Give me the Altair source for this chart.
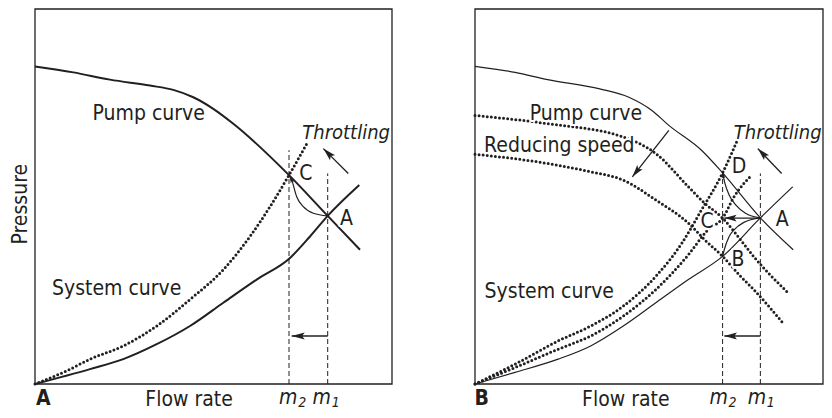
import math
import altair as alt
import pandas as pd

INK = "#231f20"
FONT = "Liberation Sans Narrow, Arial Narrow, DejaVu Sans Condensed, sans-serif"
HEAD = "M0,0L0.55,2L0,1.6L-0.55,2Z"

H = 402
Y_DOMAIN = [-6.93, 100.27]

# ---------------- Panel A : throttling ----------------
A_W = 408
A_X_DOMAIN = [-7.563, 106.723]

a_pump_flow = [0, 10.73, 21.01, 32.21, 38.74, 44.34, 49.94, 55.55, 71.15, 81.99, 91.04]
a_pump_p = [84.70, 83.10, 81.17, 79.58, 78.44, 76.47, 73.39, 69.41, 55.70, 44.83, 35.81]
a_sys_flow = [0, 15.41, 24.73, 34.09, 43.42, 52.75, 62.10, 71.43, 77.03, 81.99, 90.84]
a_sys_p = [0, 3.98, 6.63, 10.61, 15.47, 21.67, 27.85, 33.61, 39.34, 44.83, 53.05]
a_throttled_flow = [0, 8.88, 15.41, 24.73, 34.09, 43.42, 52.75, 60.22, 65.83, 71.15, 76.55]
a_throttled_p = [0, 3.53, 6.63, 10.16, 15.47, 22.55, 30.50, 39.34, 47.29, 55.70, 64.80]
a_move_flow = [71.15, 71.90, 73.30, 75.15, 77.96, 81.99]
a_move_p = [55.70, 54.38, 49.95, 47.29, 45.54, 44.83]
a_m_flow = [71.15, 81.99]
a_m_top = [62.33, 56.15]

a_arrow_from_flow = [81.99, 87.76, 72.2]
a_arrow_from_p = [12.81, 56.15, 53.6]
a_arrow_to_flow = [71.90, 80.76, 71.35]
a_arrow_to_p = [12.81, 62.78, 55.4]
a_arrow_shaft = [True, True, False]
a_arrow_head = [170, 170, 45]

a_lab_text = ["Pump curve", "System curve", "C", "A", "Flow rate"]
a_lab_flow = [31.84, 22.88, 75.85, 87.21, 43.14]
a_lab_p = [70.29, 23.87, 54.38, 42.44, -5.73]
a_left_text = []
a_left_flow = []
a_left_p = []
a_ital_text = ["Throttling"]
a_ital_flow = [99.44]
a_ital_p = [65.44]
a_bold_text = ["A"]
a_bold_flow = [2.33]
a_bold_p = [-5.6]
a_m_text = ["m", "m"]
a_m_lab_flow = [70.95, 80.31]
a_m_lab_p = [-5.33, -5.33]
a_sub_text = ["2", "1"]
a_sub_flow = [74.85, 84.21]
a_sub_p = [-6.13, -6.13]
a_rot_text = ["Pressure"]
a_rot_flow = [-7.14]
a_rot_p = [47.95]

# ---------------- Panel B : reducing speed ----------------
B_W = 408
B_X_DOMAIN = [-16.954, 100.287]

b_pump_flow = [0, 11.52, 20.87, 35.87, 44.21, 50.84, 55.70, 65.08, 71.15, 82.0, 91.43]
b_pump_p = [84.70, 83.10, 81.17, 78.70, 76.47, 72.94, 68.97, 62.33, 56.3, 44.30, 35.81]
b_sys_flow = [0, 11.52, 23.88, 33.24, 42.61, 51.97, 61.32, 71.15, 82.0, 91.29]
b_sys_p = [0, 3.10, 6.63, 10.16, 15.47, 21.67, 27.85, 34.03, 44.30, 52.60]
b_slow1_flow = [0, 20.87, 42.61, 51.97, 61.32, 66.01, 71.15, 76.32, 80.06, 90.17]
b_slow1_p = [71.62, 69.42, 65.87, 61.46, 52.60, 48.20, 44.22, 38.46, 34.03, 24.14]
b_slow2_flow = [0, 20.87, 33.24, 42.61, 51.97, 61.32, 66.01, 71.15, 76.32, 80.06, 88.4]
b_slow2_p = [61.27, 58.81, 56.58, 54.38, 49.07, 42.89, 38.46, 34.03, 28.73, 25.20, 16.37]
b_sysd_flow = [0, 11.52, 23.88, 33.24, 42.61, 51.97, 59.46, 65.08, 71.15, 75.37]
b_sysd_p = [0, 5.3, 11.49, 15.47, 20.78, 28.74, 37.59, 46.42, 56.3, 64.99]
b_sysc_flow = [0, 11.52, 23.88, 33.24, 42.61, 51.97, 61.32, 66.94, 71.15, 74.44, 79.5]
b_sysc_p = [0, 4.4, 9.28, 12.81, 18.12, 25.20, 34.48, 41.11, 44.22, 49.95, 55.7]
b_to_d_flow = [71.15, 71.82, 73.03, 74.92, 77.72, 82.0]
b_to_d_p = [56.3, 53.50, 50.40, 47.75, 45.54, 44.30]
b_to_b_flow = [71.15, 71.63, 73.03, 74.44, 77.25, 82.0]
b_to_b_p = [34.03, 35.81, 39.34, 41.11, 43.1, 44.30]
b_m_flow = [71.15, 82.0]
b_m_top = [57.5, 56.15]

b_arrow_from_flow = [82.0, 82.0, 55.70, 88.12, 71.5]
b_arrow_from_p = [12.81, 44.25, 67.64, 56.15, 54.0]
b_arrow_to_flow = [71.63, 71.63, 45.22, 81.26, 71.2]
b_arrow_to_p = [12.81, 44.25, 55.25, 62.78, 56.6]
b_arrow_shaft = [True, True, True, True, False]
b_arrow_head = [160, 150, 150, 160, 45]

b_lab_text = ["Pump curve", "System curve", "D", "C", "B", "A", "Flow rate"]
b_lab_flow = [31.88, 21.35, 75.9, 66.71, 75.6, 88.3, 43.35]
b_lab_p = [70.48, 23.0, 56.15, 41.56, 31.38, 42.18, -5.73]
b_left_text = ["Reducing speed"]
b_left_flow = [2.62]
b_left_p = [61.80]
b_ital_text = ["Throttling"]
b_ital_flow = [99.6]
b_ital_p = [65.44]
b_bold_text = ["B"]
b_bold_flow = [1.92]
b_bold_p = [-5.6]
b_m_text = ["m", "m"]
b_m_lab_flow = [70.04, 81.04]
b_m_lab_p = [-5.33, -5.33]
b_sub_text = ["2", "1"]
b_sub_flow = [74.0, 85.0]
b_sub_p = [-6.13, -6.13]


def line_rows(series):
    rows = []
    for kind, sid, flows, ps in series:
        for i, (f, p) in enumerate(zip(flows, ps)):
            rows.append({"kind": kind, "sid": sid, "i": i, "flow": f, "p": p})
    return pd.DataFrame(rows)


def build_panel(width, xdom, lines, arrows, texts, solid_w):
    xs = alt.Scale(domain=xdom, nice=False, zero=False)
    ys = alt.Scale(domain=Y_DOMAIN, nice=False, zero=False)
    kx = width / (xdom[1] - xdom[0])
    ky = H / (Y_DOMAIN[1] - Y_DOMAIN[0])

    def X(f):
        return alt.X(f"{f}:Q", scale=xs, axis=None)

    def Y(f):
        return alt.Y(f"{f}:Q", scale=ys, axis=None)

    layers = []
    frame = pd.DataFrame({"x0": [0], "x1": [100], "y0": [0], "y1": [100]})
    layers.append(
        alt.Chart(frame).mark_rect(filled=False, stroke=INK, strokeWidth=1.3)
        .encode(x=X("x0"), x2="x1:Q", y=Y("y0"), y2="y1:Q")
    )

    fr_f, fr_p, to_f, to_p, shaft, head = arrows
    shaft_rows, head_rows = [], []
    for k in range(len(fr_f)):
        if shaft[k]:
            shaft_rows.append({"kind": "shaft", "sid": f"ar{k}", "i": 0, "flow": fr_f[k], "p": fr_p[k]})
            shaft_rows.append({"kind": "shaft", "sid": f"ar{k}", "i": 1, "flow": to_f[k], "p": to_p[k]})
        dx = (to_f[k] - fr_f[k]) * kx
        dy = -(to_p[k] - fr_p[k]) * ky
        ang = math.degrees(math.atan2(dx, -dy)) % 360
        head_rows.append({"flow": to_f[k], "p": to_p[k], "angle": ang, "size": head[k]})
    ldf = pd.concat([lines, pd.DataFrame(shaft_rows)], ignore_index=True)
    base = alt.Chart(ldf)

    def lay(kind, **kw):
        return base.transform_filter(alt.datum.kind == kind).mark_line(color=INK, **kw).encode(
            x=X("flow"), y=Y("p"), detail="sid:N", order="i:Q")

    layers.append(lay("dotted", strokeWidth=3.0, strokeDash=[0, 4.1], strokeCap="round", interpolate="monotone"))
    layers.append(lay("dashed", strokeWidth=1.0, strokeDash=[5, 3]))
    layers.append(lay("solid", strokeWidth=solid_w, interpolate="monotone"))
    layers.append(lay("thin", strokeWidth=1.2, interpolate="monotone"))
    layers.append(lay("shaft", strokeWidth=1.3))
    layers.append(
        alt.Chart(pd.DataFrame(head_rows)).mark_point(shape=HEAD, filled=True, color=INK, opacity=1, strokeWidth=0)
        .encode(x=X("flow"), y=Y("p"), angle=alt.Angle("angle:Q", scale=None), size=alt.Size("size:Q", scale=None))
    )

    for style, (tx, tf, tp) in texts.items():
        if not tx:
            continue
        tdf = pd.DataFrame({"label": tx, "flow": tf, "p": tp})
        tb = alt.Chart(tdf)
        enc = dict(x=X("flow"), y=Y("p"), text="label:N")
        if style in ("lab", "left"):
            al = "center" if style == "lab" else "left"
            layers.append(tb.mark_text(font=FONT, fontSize=21, align=al, baseline="alphabetic",
                                       fill="white", stroke="white", strokeWidth=4, strokeJoin="round").encode(**enc))
            layers.append(tb.mark_text(font=FONT, fontSize=21, align=al, baseline="alphabetic", color=INK).encode(**enc))
        elif style == "ital":
            layers.append(tb.mark_text(font=FONT, fontSize=20, fontStyle="italic", align="right",
                                       baseline="alphabetic", color=INK).encode(**enc))
        elif style == "bold":
            layers.append(tb.mark_text(font=FONT, fontSize=21, fontWeight="bold", align="center",
                                       baseline="alphabetic", color=INK).encode(**enc))
        elif style == "m":
            layers.append(tb.mark_text(font=FONT, fontSize=21, fontStyle="italic", align="center",
                                       baseline="alphabetic", color=INK).encode(**enc))
        elif style == "sub":
            layers.append(tb.mark_text(font=FONT, fontSize=14, fontStyle="italic", align="center",
                                       baseline="alphabetic", color=INK).encode(**enc))
        elif style == "rot":
            layers.append(tb.mark_text(font=FONT, fontSize=21, angle=270, align="center",
                                       baseline="top", color=INK).encode(**enc))
    return alt.layer(*layers).properties(width=width, height=H)


a_lines = line_rows([
    ("solid", "pump", a_pump_flow, a_pump_p),
    ("solid", "sys", a_sys_flow, a_sys_p),
    ("dotted", "thr", a_throttled_flow, a_throttled_p),
    ("thin", "move", a_move_flow, a_move_p),
    ("dashed", "m2", [a_m_flow[0], a_m_flow[0]], [0, a_m_top[0]]),
    ("dashed", "m1", [a_m_flow[1], a_m_flow[1]], [0, a_m_top[1]]),
])
b_lines = line_rows([
    ("thin", "pump", b_pump_flow, b_pump_p),
    ("thin", "sys", b_sys_flow, b_sys_p),
    ("dotted", "slow1", b_slow1_flow, b_slow1_p),
    ("dotted", "slow2", b_slow2_flow, b_slow2_p),
    ("dotted", "sysd", b_sysd_flow, b_sysd_p),
    ("dotted", "sysc", b_sysc_flow, b_sysc_p),
    ("thin", "tod", b_to_d_flow, b_to_d_p),
    ("thin", "tob", b_to_b_flow, b_to_b_p),
    ("dashed", "m2", [b_m_flow[0], b_m_flow[0]], [0, b_m_top[0]]),
    ("dashed", "m1", [b_m_flow[1], b_m_flow[1]], [0, b_m_top[1]]),
])

panel_a = build_panel(
    A_W, A_X_DOMAIN, a_lines,
    (a_arrow_from_flow, a_arrow_from_p, a_arrow_to_flow, a_arrow_to_p, a_arrow_shaft, a_arrow_head),
    {
        "lab": (a_lab_text, a_lab_flow, a_lab_p),
        "left": (a_left_text, a_left_flow, a_left_p),
        "ital": (a_ital_text, a_ital_flow, a_ital_p),
        "bold": (a_bold_text, a_bold_flow, a_bold_p),
        "m": (a_m_text, a_m_lab_flow, a_m_lab_p),
        "sub": (a_sub_text, a_sub_flow, a_sub_p),
        "rot": (a_rot_text, a_rot_flow, a_rot_p),
    },
    2.0,
)
panel_b = build_panel(
    B_W, B_X_DOMAIN, b_lines,
    (b_arrow_from_flow, b_arrow_from_p, b_arrow_to_flow, b_arrow_to_p, b_arrow_shaft, b_arrow_head),
    {
        "lab": (b_lab_text, b_lab_flow, b_lab_p),
        "left": (b_left_text, b_left_flow, b_left_p),
        "ital": (b_ital_text, b_ital_flow, b_ital_p),
        "bold": (b_bold_text, b_bold_flow, b_bold_p),
        "m": (b_m_text, b_m_lab_flow, b_m_lab_p),
        "sub": (b_sub_text, b_sub_flow, b_sub_p),
    },
    1.2,
)

chart = (
    alt.hconcat(panel_a, panel_b, spacing=0, padding=0)
    .configure_view(strokeWidth=0)
)

chart.save("out.html", embed_options={"renderer": "svg", "actions": False})
